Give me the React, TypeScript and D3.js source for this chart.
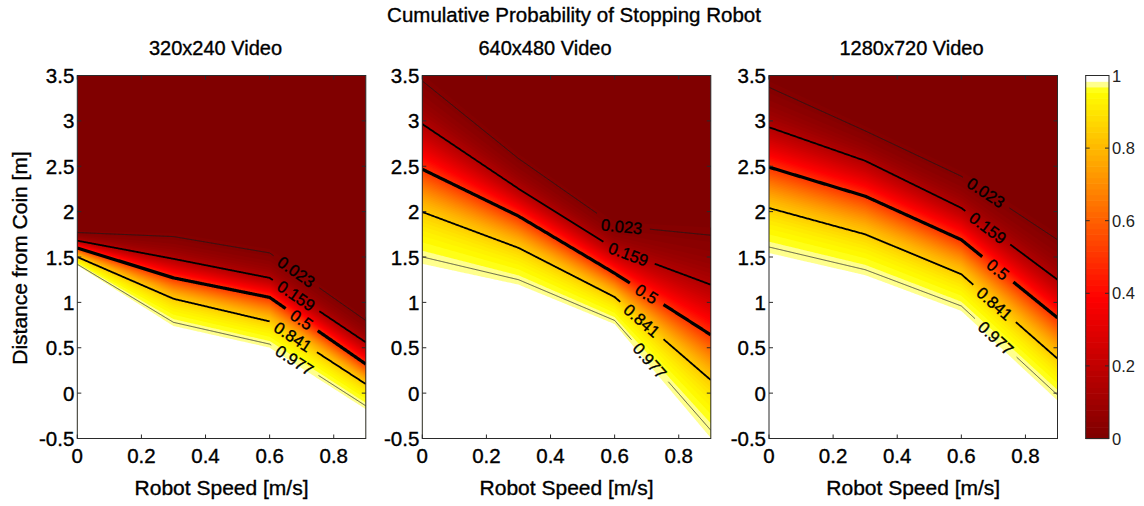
import React, { useMemo } from "react";
import * as d3 from "d3";

// Speed knots (m/s) at which the probability contours were sampled
const SPEED_KNOTS = [0, 0.3, 0.6, 0.9];

// Contour levels: cumulative probability of stopping and the matching normal z-score
const LEVELS = [0.023, 0.159, 0.5, 0.841, 0.977];
const LEVEL_LABELS = ["0.023", "0.159", "0.5", "0.841", "0.977"];
const LEVEL_Z = [-2, -1, 0, 1, 2];

const PANEL_TITLES = ["320x240 Video", "640x480 Video", "1280x720 Video"];

// Distance from coin [m] of each contour level at each speed knot
const CONTOURS_320 = [
  [1.77, 1.725, 1.545, 0.8],
  [1.68, 1.48, 1.27, 0.56],
  [1.6, 1.27, 1.055, 0.32],
  [1.5, 1.04, 0.79, 0.1],
  [1.42, 0.78, 0.54, -0.14],
];
const CONTOURS_640 = [
  [3.44, 2.585, 1.845, 1.74],
  [2.965, 2.253, 1.59, 1.195],
  [2.467, 1.951, 1.321, 0.642],
  [1.996, 1.601, 1.059, 0.144],
  [1.501, 1.25, 0.801, -0.409],
];
const CONTOURS_1280 = [
  [3.37, 2.89, 2.39, 1.69],
  [2.93, 2.56, 2.04, 1.25],
  [2.49, 2.17, 1.69, 0.83],
  [2.04, 1.75, 1.31, 0.38],
  [1.61, 1.36, 0.96, -0.02],
];

// Speed at which each inline contour label sits
const LABEL_SPEEDS_320 = [0.683, 0.683, 0.7, 0.673, 0.678];
const LABEL_SPEEDS_640 = [0.622, 0.643, 0.7, 0.685, 0.71];
const LABEL_SPEEDS_1280 = [0.677, 0.683, 0.714, 0.704, 0.708];

const X_TICKS = [0, 0.2, 0.4, 0.6, 0.8];
const Y_TICKS = [-0.5, 0, 0.5, 1, 1.5, 2, 2.5, 3, 3.5];
const CBAR_TICKS = [0, 0.2, 0.4, 0.6, 0.8, 1];

const PANELS = [
  { title: PANEL_TITLES[0], contours: CONTOURS_320, labelSpeeds: LABEL_SPEEDS_320 },
  { title: PANEL_TITLES[1], contours: CONTOURS_640, labelSpeeds: LABEL_SPEEDS_640 },
  { title: PANEL_TITLES[2], contours: CONTOURS_1280, labelSpeeds: LABEL_SPEEDS_1280 },
];

// ---- layout ----
const W = 1144;
const H = 506;
const PANEL_LEFTS = [77.3, 422.3, 769];
const TITLE_CENTERS = [215.5, 545, 911.5];
const PANEL_W = 288.5;
const TOP = 75.5;
const BOTTOM = 438.5;
const CBAR_X0 = 1085.7;
const CBAR_X1 = 1109;
const FONT = "'Liberation Sans', Arial, Helvetica, sans-serif";
const LINE_WIDTHS = [0.8, 1.8, 3.2, 1.8, 0.8];
const LINE_COLORS = ["#1a1a1a", "#000", "#000", "#000", "#333"];
const N_COLORS = 64;
const TICK = 4;

// shared text styling: a faint outline gives the heavier screen-font look
const textStyle = (size: number, color = "#000") => ({
  fontFamily: FONT,
  fontSize: size,
  fill: color,
  stroke: color,
  strokeWidth: 0.35,
});

// dark red -> red -> yellow -> white
const cmap = d3
  .scaleLinear<string>()
  .domain([0, 0.38, 0.95, 0.984])
  .range(["#800000", "#ff0000", "#ffff00", "#ffffff"])
  .interpolate(d3.interpolateRgb)
  .clamp(true);

function normCdf(z: number) {
  const t = 1 / (1 + 0.2316419 * Math.abs(z));
  const d = 0.3989423 * Math.exp((-z * z) / 2);
  const p =
    d * t * (0.3193815 + t * (-0.3565638 + t * (1.781478 + t * (-1.821256 + t * 1.330274))));
  return z > 0 ? 1 - p : p;
}

// z-score at distance d, given the level distances D (decreasing with level)
function zAt(D: number[], d: number) {
  const n = D.length;
  if (d >= D[0]) return LEVEL_Z[0] - (d - D[0]) / (D[0] - D[1]);
  if (d <= D[n - 1]) return LEVEL_Z[n - 1] + (D[n - 1] - d) / (D[n - 2] - D[n - 1]);
  for (let k = 0; k < n - 1; k++) {
    if (d <= D[k] && d >= D[k + 1]) {
      return LEVEL_Z[k] + (D[k] - d) / (D[k] - D[k + 1]);
    }
  }
  return 0;
}

function Panel({ idx, title, contours, labelSpeeds }: any) {
  const left = PANEL_LEFTS[idx];
  const xs = d3.scaleLinear().domain([0, 0.9]).range([left, left + PANEL_W]);
  const ys = d3.scaleLinear().domain([-0.5, 3.5]).range([BOTTOM, TOP]);
  const clipId = `clip-${idx}`;

  const interps = useMemo(
    () => contours.map((row: number[]) => d3.scaleLinear().domain(SPEED_KNOTS).range(row)),
    [contours]
  );

  const fills = useMemo(() => {
    const nx = 181;
    const ny = 321;
    const dx = 0.9 / (nx - 1);
    const dy = 4 / (ny - 1);
    const values = new Float64Array(nx * ny);
    for (let i = 0; i < nx; i++) {
      const s = i * dx;
      const D = interps.map((f: any) => f(s));
      for (let j = 0; j < ny; j++) {
        const d = 3.5 - j * dy;
        values[i + j * nx] = normCdf(zAt(D, d));
      }
    }
    const thresholds = d3.range(N_COLORS).map((k) => k / N_COLORS);
    const polys = d3.contours().size([nx, ny]).thresholds(thresholds)(values as any);
    const proj = d3.geoTransform({
      point(this: any, u: number, v: number) {
        this.stream.point(xs((u - 0.5) * dx), ys(3.5 - (v - 0.5) * dy));
      },
    });
    const path = d3.geoPath(proj);
    return polys.map((p) => ({ d: path(p as any) || "", color: cmap(p.value) }));
  }, [interps, left]);

  const lineGen = d3.line<[number, number]>();
  const fontSize = 16.5;

  const lines = LEVELS.map((_, k) => {
    const f = interps[k];
    const pts: [number, number][] = d3
      .range(0, 0.9 + 1e-9, 0.0025)
      .map((s) => [xs(s), ys(f(s))] as [number, number]);
    const sL = labelSpeeds[k];
    const c: [number, number] = [xs(sL), ys(f(sL))];
    const a = [xs(sL - 0.01), ys(f(sL - 0.01))];
    const b = [xs(sL + 0.01), ys(f(sL + 0.01))];
    const angle = (Math.atan2(b[1] - a[1], b[0] - a[0]) * 180) / Math.PI;
    const textW = LEVEL_LABELS[k].length * 0.5 * fontSize;
    const half = textW / 2 + 7;
    const runs: [number, number][][] = [];
    let cur: [number, number][] = [];
    for (const p of pts) {
      if (Math.hypot(p[0] - c[0], p[1] - c[1]) < half) {
        if (cur.length > 1) runs.push(cur);
        cur = [];
      } else cur.push(p);
    }
    if (cur.length > 1) runs.push(cur);
    return { runs, c, angle, label: LEVEL_LABELS[k], width: LINE_WIDTHS[k], color: LINE_COLORS[k] };
  });

  return (
    <g>
      <defs>
        <clipPath id={clipId}>
          <rect x={left} y={TOP} width={PANEL_W} height={BOTTOM - TOP} />
        </clipPath>
      </defs>
      <g clipPath={`url(#${clipId})`}>
        {fills.map((f, i) => (
          <path key={i} d={f.d} fill={f.color} stroke="none" />
        ))}
        {lines.map((ln, k) =>
          ln.runs.map((r, j) => (
            <path
              key={`${k}-${j}`}
              d={lineGen(r) || ""}
              fill="none"
              stroke={ln.color}
              strokeWidth={ln.width}
              strokeLinejoin="round"
            />
          ))
        )}
        {lines.map((ln, k) => (
          <text
            key={`lab-${k}`}
            transform={`translate(${ln.c[0]},${ln.c[1]}) rotate(${ln.angle})`}
            textAnchor="middle"
            dominantBaseline="central"
            {...textStyle(fontSize)}
          >
            {ln.label}
          </text>
        ))}
      </g>
      {/* axes box and ticks */}
      <rect x={left} y={TOP} width={PANEL_W} height={BOTTOM - TOP} fill="none" stroke="#2a2a2a" strokeWidth={1} />
      {X_TICKS.map((t) => (
        <g key={`xt-${t}`}>
          <line x1={xs(t)} x2={xs(t)} y1={BOTTOM} y2={BOTTOM - TICK} stroke="#2a2a2a" />
          <line x1={xs(t)} x2={xs(t)} y1={TOP} y2={TOP + TICK} stroke="#2a2a2a" />
          <text x={xs(t)} y={462.5} textAnchor="middle" {...textStyle(20.5)}>
            {String(t)}
          </text>
        </g>
      ))}
      {Y_TICKS.map((t) => (
        <g key={`yt-${t}`}>
          <line x1={left} x2={left + TICK} y1={ys(t)} y2={ys(t)} stroke="#2a2a2a" />
          <line x1={left + PANEL_W} x2={left + PANEL_W - TICK} y1={ys(t)} y2={ys(t)} stroke="#2a2a2a" />
          <text x={left - 3} y={ys(t)} textAnchor="end" dominantBaseline="central" {...textStyle(20.5)}>
            {String(t)}
          </text>
        </g>
      ))}
      <text x={TITLE_CENTERS[idx]} y={55} textAnchor="middle" {...textStyle(20)}>
        {title}
      </text>
      <text x={left + PANEL_W / 2} y={495} textAnchor="middle" {...textStyle(21)}>
        Robot Speed [m/s]
      </text>
    </g>
  );
}

function Colorbar() {
  const cy = d3.scaleLinear().domain([0, 1]).range([BOTTOM, TOP]);
  const bands = d3.range(N_COLORS).map((k) => k / N_COLORS);
  return (
    <g>
      {bands.map((v) => (
        <rect
          key={v}
          x={CBAR_X0}
          y={cy(v + 1 / N_COLORS)}
          width={CBAR_X1 - CBAR_X0}
          height={cy(v) - cy(v + 1 / N_COLORS) + 0.6}
          fill={cmap(v)}
        />
      ))}
      <rect x={CBAR_X0} y={TOP} width={CBAR_X1 - CBAR_X0} height={BOTTOM - TOP} fill="none" stroke="#2a2a2a" />
      {CBAR_TICKS.map((t) => (
        <g key={t}>
          <line x1={CBAR_X0} x2={CBAR_X0 + TICK} y1={cy(t)} y2={cy(t)} stroke="#2a2a2a" />
          <line x1={CBAR_X1} x2={CBAR_X1 - TICK} y1={cy(t)} y2={cy(t)} stroke="#2a2a2a" />
          <text
            x={CBAR_X1 + 3}
            y={cy(t)}
            dominantBaseline="central"
            fontFamily={FONT}
            fontSize={16.5}
            fill="#222"
          >
            {String(t)}
          </text>
        </g>
      ))}
    </g>
  );
}

export default function App() {
  return (
    <svg
      width={W}
      height={H}
      viewBox={`0 0 ${W} ${H}`}
      style={{ position: "absolute", left: 0, top: 0, background: "#fff" }}
    >
      <rect x={0} y={0} width={W} height={H} fill="#fff" />
      <text x={574} y={21.7} textAnchor="middle" {...textStyle(20.5)}>
        Cumulative Probability of Stopping Robot
      </text>
      <text transform="translate(27,258) rotate(-90)" textAnchor="middle" {...textStyle(21)}>
        Distance from Coin [m]
      </text>
      {PANELS.map((p, i) => (
        <Panel key={i} idx={i} title={p.title} contours={p.contours} labelSpeeds={p.labelSpeeds} />
      ))}
      <Colorbar />
    </svg>
  );
}
